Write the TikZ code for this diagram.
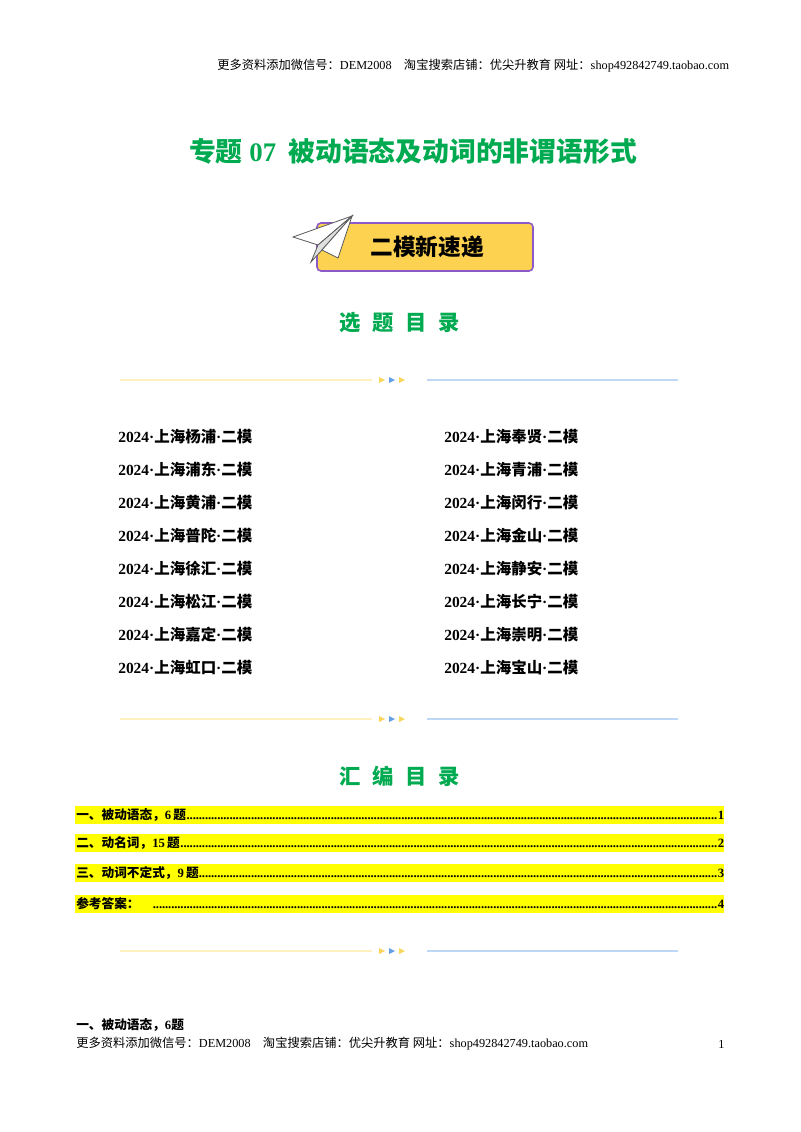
\documentclass[tikz,border=0pt]{standalone}
\usepackage{fontspec}
\setmainfont{Liberation Serif}
\newfontfamily\cjk{Noto Sans CJK SC}
\definecolor{tgreen}{RGB}{0,170,80}
\definecolor{bannery}{RGB}{252,210,80}
\definecolor{bannerp}{RGB}{140,90,200}
\definecolor{hly}{RGB}{255,255,0}
\definecolor{liney}{RGB}{255,240,190}
\definecolor{lineb}{RGB}{190,215,245}
\definecolor{arry}{RGB}{250,215,90}
\definecolor{arrb}{RGB}{100,160,230}
\newcommand{\myleaders}{\leaders\hbox to 2.3pt{\hss.\hss}\hfill}
\begin{document}
\begin{tikzpicture}[x=0.75pt,y=-0.75pt,
  hdr/.style={anchor=west,font=\fontsize{9.2pt}{10pt}\selectfont,inner sep=0},
  item/.style={anchor=west,font=\bfseries\fontsize{11.6pt}{13pt}\selectfont,inner sep=0},
  head/.style={font=\cjk\bfseries\fontsize{16pt}{18pt}\selectfont,text=tgreen,inner sep=0},
  toc/.style={anchor=west,font=\bfseries\fontsize{9.5pt}{11pt}\selectfont,inner sep=0}]
\useasboundingbox (0,0) rectangle (800,1132);
\fill[white] (0,0) rectangle (800,1132);
\node[hdr] (h1) at (217,66) {{\cjk 更多资料添加微信号：}DEM2008\quad{\cjk 淘宝搜索店铺：优尖升教育\ 网址：}shop492842749.taobao.com};
\node[font=\cjk\bfseries\fontsize{20.1pt}{22pt}\selectfont,text=tgreen] (title) at (413,151) {专题{\rmfamily\ 07}\ \ 被动语态及动词的非谓语形式};
% banner
\draw[bannerp,fill=bannery,line width=1.2pt,rounded corners=3pt] (317,223) rectangle (533,271);
\node[font=\cjk\bfseries\fontsize{17pt}{19pt}\selectfont] (bt) at (427,247) {二模新速递};
\filldraw[gray!70!black,fill=white,line width=0.6pt] (352,216) -- (293,237) -- (318,245) -- cycle;
\filldraw[gray!70!black,fill=gray!25,line width=0.6pt] (352,216) -- (318,245) -- (311,262) -- (322,250) -- cycle;
\filldraw[gray!70!black,fill=white,line width=0.6pt] (352,216) -- (322,250) -- (338,258) -- cycle;
\node[head] (s1) at (400,323) {选\hspace{0.55em}题\hspace{0.55em}目\hspace{0.55em}录};
% dividers
\foreach \y/\n in {380/a,719/b,951/c}{
  \draw[liney,line width=1.2pt] (120,\y) -- (372,\y);
  \draw[lineb,line width=1.2pt] (427,\y) -- (678,\y);
  \fill[arry] (379,\y-3) -- (385,\y) -- (379,\y+3) -- cycle;
  \fill[arrb] (389,\y-3) -- (395,\y) -- (389,\y+3) -- cycle;
  \fill[arry] (399,\y-3) -- (405,\y) -- (399,\y+3) -- cycle;
}
\foreach \t [count=\i] in {杨浦,浦东,黄浦,普陀,徐汇,松江,嘉定,虹口}{
  \node[item] (l\i) at (118,437+33*\i-33) {2024·{\cjk 上海\t}·{\cjk 二模}};}
\foreach \t [count=\i] in {奉贤,青浦,闵行,金山,静安,长宁,崇明,宝山}{
  \node[item] (r\i) at (444,437+33*\i-33) {2024·{\cjk 上海\t}·{\cjk 二模}};}
\node[head] (s2) at (400,776) {汇\hspace{0.55em}编\hspace{0.55em}目\hspace{0.55em}录};
\foreach \y/\t/\p [count=\i] in {815/一、被动语态，{\rmfamily 6}\,题/1,843/二、动名词，{\rmfamily 15}\,题/2,873/三、动词不定式，{\rmfamily 9}\,题/3,904/参考答案：\hspace{1em}/4}{
  \fill[hly] (75,\y-9) rectangle (724,\y+9);
  \node[toc] (toc\i) at (76,\y) {\hbox to 486pt{{\cjk \t}\myleaders\p}};
}
\node[toc] (sec) at (76,1025) {{\cjk 一、被动语态，}6{\cjk 题}};
\node[hdr] (f1) at (76,1044) {{\cjk 更多资料添加微信号：}DEM2008\quad{\cjk 淘宝搜索店铺：优尖升教育\ 网址：}shop492842749.taobao.com};
\node[hdr] (pg) at (718,1044) {1};
\end{tikzpicture}
\end{document}
